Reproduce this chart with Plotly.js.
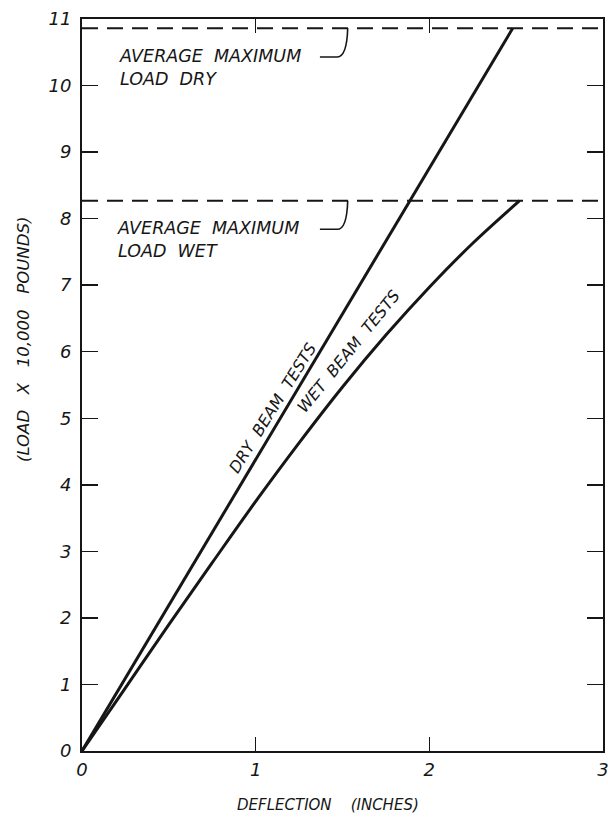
<!DOCTYPE html>
<html>
<head>
<meta charset="utf-8">
<script src="https://cdn.plot.ly/plotly-3.0.1.min.js"></script>
<style>
  html, body { margin: 0; padding: 0; background: #fff; }
  #chart { width: 608px; height: 819px; }
</style>
</head>
<body>
<div id="chart"></div>
<script>
// ---- data ----
const dryDeflection = [0, 2.48];
const dryLoad = [0, 10.86];
const wetDeflection = [0, 0.25, 0.5, 0.75, 1.0, 1.25, 1.5, 1.75, 2.0, 2.25, 2.52];
const wetLoad = [0, 0.95, 1.9, 2.83, 3.75, 4.63, 5.47, 6.25, 6.97, 7.63, 8.27];
const avgMaxDry = 10.86;
const avgMaxWet = 8.27;
const xTicks = [0, 1, 2, 3];
const yTicks = [0, 1, 2, 3, 4, 5, 6, 7, 8, 9, 10, 11];
const xRange = [0, 3];
const yRange = [0, 11];

const INK = '#161616';
const FONT = 'DejaVu Sans, sans-serif';
const ital = (size) => ({ family: FONT, size: size, color: INK, style: 'italic' });

const traces = [
  { x: xRange, y: [avgMaxDry, avgMaxDry], mode: 'lines',
    line: { color: INK, width: 2, dash: '16px,9px' }, hoverinfo: 'skip' },
  { x: xRange, y: [avgMaxWet, avgMaxWet], mode: 'lines',
    line: { color: INK, width: 2, dash: '16px,9px' }, hoverinfo: 'skip' },
  { x: dryDeflection, y: dryLoad, mode: 'lines',
    line: { color: INK, width: 3 } },
  { x: wetDeflection, y: wetLoad, mode: 'lines',
    line: { color: INK, width: 3, shape: 'spline', smoothing: 1 } }
];

function hook(yDash, yText) {
  return {
    type: 'path', xref: 'x', yref: 'y',
    path: `M 1.37 ${yText} L 1.47 ${yText} Q 1.525 ${yText} 1.53 ${yDash}`,
    line: { color: INK, width: 1.6 }
  };
}

const layout = {
  width: 608, height: 819,
  margin: { l: 82, r: 5, t: 19, b: 68 },
  paper_bgcolor: '#fff', plot_bgcolor: '#fff',
  showlegend: false,
  xaxis: {
    range: xRange, tickvals: xTicks, ticktext: xTicks.map(String),
    showgrid: false, zeroline: false,
    showline: true, linecolor: INK, linewidth: 2, mirror: 'ticks',
    ticks: 'inside', ticklen: 14, tickwidth: 1.5, tickcolor: INK,
    tickfont: ital(18), ticklabelstandoff: 1, ticklabeloverflow: 'allow'
  },
  yaxis: {
    range: yRange, tickvals: yTicks, ticktext: yTicks.map(String),
    showgrid: false, zeroline: false,
    showline: true, linecolor: INK, linewidth: 2, mirror: 'ticks',
    ticks: 'inside', ticklen: 16, tickwidth: 1.5, tickcolor: INK,
    tickfont: ital(18), ticklabelstandoff: 5, ticklabeloverflow: 'allow'
  },
  shapes: [ hook(avgMaxDry, 10.43), hook(avgMaxWet, 7.84) ],
  annotations: [
    { xref: 'x', yref: 'y', x: 0.2, y: 10.27, xanchor: 'left', yanchor: 'middle', align: 'left',
      text: 'AVERAGE  MAXIMUM<br>LOAD  DRY', showarrow: false, font: ital(17.5) },
    { xref: 'x', yref: 'y', x: 0.19, y: 7.68, xanchor: 'left', yanchor: 'middle', align: 'left',
      text: 'AVERAGE  MAXIMUM<br>LOAD  WET', showarrow: false, font: ital(17.5) },
    { xref: 'x', yref: 'y', x: 1.095, y: 5.15, textangle: -58, showarrow: false,
      text: 'DRY  BEAM  TESTS', font: ital(16) },
    { xref: 'x', yref: 'y', x: 1.535, y: 6.0, textangle: -51, showarrow: false,
      text: 'WET  BEAM  TESTS', font: ital(16) },
    { xref: 'paper', yref: 'paper', x: (328 - 82) / 521, y: -(805 - 751) / 732,
      xanchor: 'center', yanchor: 'middle', showarrow: false,
      text: 'DEFLECTION    (INCHES)', font: ital(15) },
    { xref: 'paper', yref: 'paper', x: -(82 - 23) / 521, y: (751 - 340) / 732,
      xanchor: 'center', yanchor: 'middle', textangle: -90, showarrow: false,
      text: '(LOAD   X   10,000   POUNDS)', font: ital(16.5) }
  ]
};

Plotly.newPlot('chart', traces, layout, { displayModeBar: false, staticPlot: true });
</script>
</body>
</html>
